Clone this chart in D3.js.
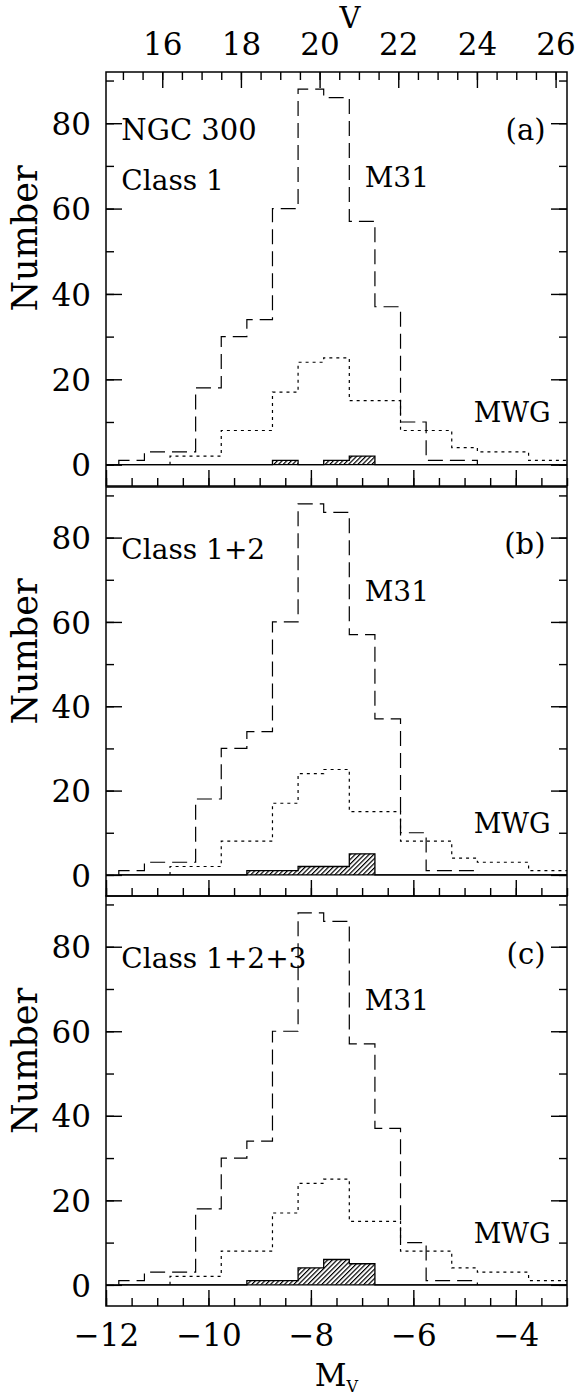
<!DOCTYPE html>
<html>
<head>
<meta charset="utf-8">
<script src="https://cdn.jsdelivr.net/npm/d3@7"></script>
<style>
  body { margin: 0; background: #fff; }
  svg { display: block; }
  text { font-family: "DejaVu Serif", serif; fill: #000; }
</style>
</head>
<body>
<div id="chart"></div>
<script>
// bin left edges in M_V, bins are 0.5 mag wide
const mvBins = [-11.75, -11.25, -10.75, -10.25, -9.75, -9.25, -8.75, -8.25, -7.75,
  -7.25, -6.75, -6.25, -5.75, -5.25, -4.75, -4.25, -3.75, -3.25];
const binWidth = 0.5;

// M31 globular clusters (dashed)
const m31Counts = [1, 3, 3, 18, 30, 34, 60, 88, 86, 57, 37, 10, 1, 1, 0, 0, 0, 0];
// Milky Way globulars (dotted)
const mwgCounts = [0, 0, 2, 2, 8, 8, 17, 24, 25, 15, 15, 8, 8, 4, 3, 3, 1, 1];
// NGC 300 candidates (hatched), one per panel
const ngcClass1 = [0, 0, 0, 0, 0, 0, 1, 0, 1, 2, 0, 0, 0, 0, 0, 0, 0, 0];
const ngcClass12 = [0, 0, 0, 0, 0, 1, 1, 2, 2, 5, 0, 0, 0, 0, 0, 0, 0, 0];
const ngcClass123 = [0, 0, 0, 0, 0, 1, 1, 4, 6, 5, 0, 0, 0, 0, 0, 0, 0, 0];

const panelTags = ["(a)", "(b)", "(c)"];
const classLabels = ["Class 1", "Class 1+2", "Class 1+2+3"];
const ngcSeries = [ngcClass1, ngcClass12, ngcClass123];

const mvDomain = [-12, -3];
const mvMajor = [-12, -10, -8, -6, -4];
const vDomain = [14.57, 26.29];
const vMajor = [16, 18, 20, 22, 24, 26];
const yDomain = [-5, 92];
const yMajor = [0, 20, 40, 60, 80];

const width = 578, height = 1399;
const left = 106, right = 567;
// panel boxes [top, bottom]
const panels = [[72, 486], [487, 896], [896, 1306]];

const svg = d3.select("#chart").append("svg")
  .attr("width", width)
  .attr("height", height);

const defs = svg.append("defs");
const hatch = defs.append("pattern")
  .attr("id", "hatch")
  .attr("patternUnits", "userSpaceOnUse")
  .attr("width", 3.3)
  .attr("height", 3.3)
  .attr("patternTransform", "rotate(45)");
hatch.append("line")
  .attr("x1", 0.6).attr("y1", 0).attr("x2", 0.6).attr("y2", 3.3)
  .attr("stroke", "#000")
  .attr("stroke-width", 1.2);

const x = d3.scaleLinear().domain(mvDomain).range([left, right]);
const xV = d3.scaleLinear().domain(vDomain).range([left, right]);

function range(a, b, step) {
  return d3.range(Math.round((b - a) / step) + 1).map(i => a + i * step);
}

// make step points, trimmed of empty bins at both ends
function stepPoints(counts) {
  let first = counts.findIndex(c => c > 0);
  let last = counts.length - 1;
  while (last > 0 && counts[last] == 0) last--;
  const pts = [[mvBins[first], 0]];
  for (let i = first; i <= last; i++) pts.push([mvBins[i], counts[i]]);
  pts.push([mvBins[last] + binWidth, counts[last]]);
  pts.push([mvBins[last] + binWidth, 0]);
  return pts;
}

function styleTicks(sel) {
  sel.selectAll(".domain").remove();
  sel.selectAll(".tick line")
    .attr("stroke", "#000")
    .attr("stroke-width", 1.4);
  sel.selectAll(".tick text")
    .attr("fill", "#000")
    .style("font-family", "DejaVu Serif")
    .style("font-size", "31px");
}

panels.forEach((box, p) => {
  const [top, bottom] = box;
  const y = d3.scaleLinear().domain(yDomain).range([bottom, top]);
  const g = svg.append("g").attr("class", "panel");

  g.append("clipPath").attr("id", "clip" + p)
    .append("rect")
    .attr("x", left).attr("y", top)
    .attr("width", right - left).attr("height", bottom - top);

  const plot = g.append("g").attr("clip-path", `url(#clip${p})`);

  const line = d3.line()
    .x(d => x(d[0]))
    .y(d => y(d[1]))
    .curve(d3.curveStepAfter);

  // NGC 300 hatched bins
  const ngc = ngcSeries[p];
  const ngcPts = mvBins.map((b, i) => [b, ngc[i]]);
  ngcPts.push([mvBins[mvBins.length - 1] + binWidth, 0]);
  const area = d3.area()
    .x(d => x(d[0]))
    .y0(y(0))
    .y1(d => y(d[1]))
    .curve(d3.curveStepAfter);
  plot.append("path")
    .attr("d", area(ngcPts))
    .attr("fill", "url(#hatch)")
    .attr("stroke", "none");

  // baseline
  plot.append("line")
    .attr("x1", x(mvDomain[0])).attr("x2", x(mvDomain[1]))
    .attr("y1", y(0)).attr("y2", y(0))
    .attr("stroke", "#000").attr("stroke-width", 1.4);

  plot.append("path")
    .attr("d", line([[mvBins[0], 0]].concat(ngcPts)))
    .attr("fill", "none")
    .attr("stroke", "#000")
    .attr("stroke-width", 1.3);

  // M31 dashed
  plot.append("path")
    .attr("d", line(stepPoints(m31Counts)))
    .attr("fill", "none")
    .attr("stroke", "#000")
    .attr("stroke-width", 1.2)
    .attr("stroke-dasharray", "15,7");

  // MWG dotted
  plot.append("path")
    .attr("d", line(stepPoints(mwgCounts)))
    .attr("fill", "none")
    .attr("stroke", "#000")
    .attr("stroke-width", 1.2)
    .attr("stroke-dasharray", "3,4");

  // frame
  g.append("rect")
    .attr("x", left).attr("y", top)
    .attr("width", right - left).attr("height", bottom - top)
    .attr("fill", "none")
    .attr("stroke", "#000")
    .attr("stroke-width", 1.5);

  // y axis, left with labels and right without
  const yMinor = range(0, 90, 10);
  g.append("g").attr("transform", `translate(${left},0)`)
    .call(d3.axisLeft(y).tickValues(yMinor).tickSizeInner(-8).tickSizeOuter(0).tickFormat(() => ""))
    .call(styleTicks);
  g.append("g").attr("transform", `translate(${left},0)`)
    .call(d3.axisLeft(y).tickValues(yMajor).tickSizeInner(-16).tickSizeOuter(0).tickPadding(15))
    .call(styleTicks)
    .call(a => a.selectAll("text").attr("dy", "0.36em"));
  g.append("g").attr("transform", `translate(${right},0)`)
    .call(d3.axisRight(y).tickValues(yMinor).tickSizeInner(-8).tickSizeOuter(0).tickFormat(() => ""))
    .call(styleTicks);
  g.append("g").attr("transform", `translate(${right},0)`)
    .call(d3.axisRight(y).tickValues(yMajor).tickSizeInner(-16).tickSizeOuter(0).tickFormat(() => ""))
    .call(styleTicks);

  // M_V axis along bottom of every panel, labels only on the last one
  g.append("g").attr("transform", `translate(0,${bottom})`)
    .call(d3.axisBottom(x).tickValues(range(-12, -3, 0.5)).tickSizeInner(-8).tickSizeOuter(0).tickFormat(() => ""))
    .call(styleTicks);
  const xAx = d3.axisBottom(x).tickValues(mvMajor).tickSizeInner(-16).tickSizeOuter(0).tickPadding(18);
  if (p < 2) xAx.tickFormat(() => "");
  g.append("g").attr("transform", `translate(0,${bottom})`)
    .call(xAx)
    .call(styleTicks);

  // text in panel
  if (p == 0) {
    g.append("text").attr("x", x(-11.7)).attr("y", y(76))
      .style("font-size", "29px").text("NGC 300");
    g.append("text").attr("x", x(-11.7)).attr("y", y(64.3))
      .style("font-size", "28px").text(classLabels[p]);
  } else {
    g.append("text").attr("x", x(-11.7)).attr("y", y(75))
      .style("font-size", "28px").text(classLabels[p]);
  }
  g.append("text").attr("x", x(-3.42)).attr("y", y(76))
    .attr("text-anchor", "end")
    .style("font-size", "29px").text(panelTags[p]);
  g.append("text").attr("x", x(-6.95)).attr("y", y(65))
    .style("font-size", "28px").text("M31");
  g.append("text").attr("x", x(-3.32)).attr("y", y(10))
    .attr("text-anchor", "end")
    .style("font-size", "27px").text("MWG");

  g.append("text")
    .attr("transform", `translate(37,${y(53)}) rotate(-90)`)
    .attr("text-anchor", "middle")
    .style("font-size", "35px")
    .text("Number");
});

// V axis on top of first panel
const topY = panels[0][0];
const vAxG = svg.append("g").attr("transform", `translate(0,${topY})`);
vAxG.append("g")
  .call(d3.axisTop(xV).tickValues(range(15, 26, 0.5)).tickSizeInner(-8).tickSizeOuter(0).tickFormat(() => ""))
  .call(styleTicks);
vAxG.append("g")
  .call(d3.axisTop(xV).tickValues(vMajor).tickSizeInner(-16).tickSizeOuter(0).tickPadding(17))
  .call(styleTicks);

svg.append("text")
  .attr("x", 350).attr("y", 28)
  .attr("text-anchor", "middle")
  .style("font-size", "29px")
  .text("V");

const mvLabel = svg.append("text")
  .attr("x", (left + right) / 2).attr("y", 1386)
  .attr("text-anchor", "middle")
  .style("font-size", "31px");
mvLabel.append("tspan").text("M");
mvLabel.append("tspan").attr("dy", 6).style("font-size", "16px").text("V");
</script>
</body>
</html>
